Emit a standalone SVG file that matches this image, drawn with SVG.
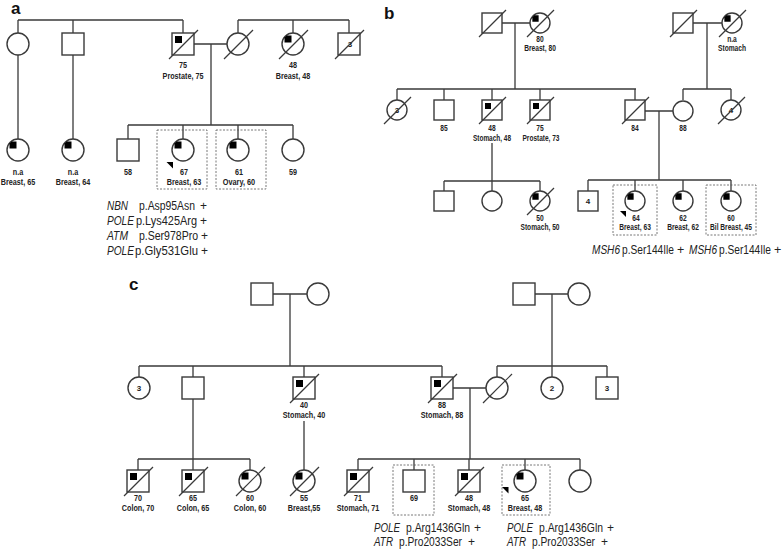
<svg xmlns="http://www.w3.org/2000/svg" xmlns:xlink="http://www.w3.org/1999/xlink" width="784" height="551" viewBox="0 0 784 551">
<style>
.ln{stroke:#3a3a3a;stroke-width:1.3;fill:none}
.nd{stroke:#3a3a3a;stroke-width:1.4;fill:#fff}
.sl{stroke:#3a3a3a;stroke-width:1.2}
.mk{fill:#000}
.bx{fill:none;stroke:#555;stroke-width:0.8;stroke-dasharray:2 1.5}
.lb{font-family:"Liberation Sans",Arial,sans-serif;font-weight:bold;font-size:9px;text-anchor:middle;fill:#222}
.lbs{font-family:"Liberation Sans",Arial,sans-serif;font-weight:bold;font-size:8.3px;text-anchor:middle;fill:#222}
.in{font-family:"Liberation Sans",Arial,sans-serif;font-weight:bold;font-size:8px;text-anchor:middle;fill:#222}
.g{font-family:"Liberation Sans",Arial,sans-serif;font-size:12px;fill:#222}
.gb{font-family:"Liberation Sans",Arial,sans-serif;font-size:12.5px;fill:#222}
.it{font-style:italic}
.pl{font-family:"Liberation Sans",Arial,sans-serif;font-weight:bold;font-size:17px;fill:#111}
</style>
<defs>
<path id="mc" d="M-1.5,-1.5 H-8.5 V-6.5 L-6.5,-8.5 H-1.5 Z"/>
</defs>

<text class="pl" x="11" y="14">a</text>
<text class="pl" x="384" y="19">b</text>
<text class="pl" x="129" y="290">c</text>

<g id="connectors">
<!-- panel a -->
<path class="ln" d="M18,20 H183 M18,20 V33 M73,20 V33 M183,20 V33 M18,55 V139 M73,55 V139 M194,44 H227 M211,44 V125 M238,20 H349 M238,20 V33 M293,20 V33 M349,20 V33 M128,125 H293 M128,125 V139 M183,125 V139 M238,125 V139 M293,125 V139"/>
<!-- panel b -->
<path class="ln" d="M502,23 H530 M515,23 V89 M693,23 H722 M707,23 V89 M397,89 H636 M397,89 V100 M444,89 V100 M492,89 V100 M540,89 V100 M635,89 V100 M683,89 H731 M683,89 V100 M731,89 V100 M645,111 H673 M659,111 V180 M492,143 V181 M444,181 H540 M444,181 V191 M492,181 V191 M540,181 V191 M588,180 H731 M588,180 V191 M635,180 V191 M683,180 V191 M731,180 V191"/>
<!-- panel c -->
<path class="ln" d="M273,294 H307 M290,294 V366 M535,294 H568 M552,294 V366 M139,366 H442 M139,366 V377 M193,366 V377 M304,366 V377 M442,366 V377 M497,366 H607 M497,366 V377 M552,366 V377 M607,366 V377 M453,388 H486 M470,388 V459 M193,399 V459 M138,459 H250 M138,459 V470 M193,459 V470 M250,459 V470 M304,421 V470 M358,459 H580 M358,459 V470 M414,459 V470 M469,459 V470 M525,459 V470 M580,459 V470"/>
</g>

<!-- ===== Panel a ===== -->
<g id="a-I1"><circle class="nd" cx="18" cy="44" r="11"/></g>
<g id="a-I2"><rect class="nd" x="62" y="33" width="22" height="22"/></g>
<g id="a-I3"><rect class="nd" x="172" y="33" width="22" height="22"/><rect class="mk" x="175" y="36" width="7" height="7"/><line class="sl" x1="169" y1="59" x2="198" y2="30"/>
<text class="lb" x="183" y="68" textLength="8" lengthAdjust="spacingAndGlyphs">75</text><text class="lb" x="183" y="79" textLength="40.8" lengthAdjust="spacingAndGlyphs">Prostate, 75</text></g>
<g id="a-I4"><circle class="nd" cx="238" cy="44" r="11"/><line class="sl" x1="224" y1="59" x2="253" y2="30"/></g>
<g id="a-I5"><circle class="nd" cx="293" cy="44" r="11"/><use href="#mc" class="mk" transform="translate(293,44)"/><line class="sl" x1="279" y1="59" x2="308" y2="30"/>
<text class="lb" x="293" y="68" textLength="8" lengthAdjust="spacingAndGlyphs">48</text><text class="lb" x="293" y="79" textLength="34.4" lengthAdjust="spacingAndGlyphs">Breast, 48</text></g>
<g id="a-I6"><rect class="nd" x="338" y="33" width="22" height="22"/><text class="in" x="350" y="47">3</text><line class="sl" x1="335" y1="59" x2="364" y2="30"/></g>

<g id="a-II1"><circle class="nd" cx="18" cy="150" r="11"/><use href="#mc" class="mk" transform="translate(18,150)"/>
<text class="lb" x="18" y="175" textLength="10.4" lengthAdjust="spacingAndGlyphs">n.a</text><text class="lb" x="18" y="185" textLength="34.4" lengthAdjust="spacingAndGlyphs">Breast, 65</text></g>
<g id="a-II2"><circle class="nd" cx="73" cy="150" r="11"/><use href="#mc" class="mk" transform="translate(73,150)"/>
<text class="lb" x="73" y="175" textLength="10.4" lengthAdjust="spacingAndGlyphs">n.a</text><text class="lb" x="73" y="185" textLength="34.4" lengthAdjust="spacingAndGlyphs">Breast, 64</text></g>
<g id="a-II3"><rect class="nd" x="117" y="139" width="22" height="22"/><text class="lb" x="128" y="175" textLength="8" lengthAdjust="spacingAndGlyphs">58</text></g>
<g id="a-II4"><rect class="bx" x="157" y="130" width="50" height="59"/><circle class="nd" cx="183" cy="150" r="11"/><use href="#mc" class="mk" transform="translate(183,150)"/>
<polygon class="mk" points="166.5,162 173,162 173,168.5"/>
<text class="lb" x="184" y="175" textLength="8" lengthAdjust="spacingAndGlyphs">67</text><text class="lb" x="184" y="185" textLength="34.4" lengthAdjust="spacingAndGlyphs">Breast, 63</text></g>
<g id="a-II5"><rect class="bx" x="216" y="130" width="50" height="59"/><circle class="nd" cx="238" cy="150" r="11"/><use href="#mc" class="mk" transform="translate(238,150)"/>
<text class="lb" x="239" y="175" textLength="8" lengthAdjust="spacingAndGlyphs">61</text><text class="lb" x="239" y="185" textLength="32.4" lengthAdjust="spacingAndGlyphs">Ovary, 60</text></g>
<g id="a-II6"><circle class="nd" cx="293" cy="150" r="11"/><text class="lb" x="293" y="175" textLength="8" lengthAdjust="spacingAndGlyphs">59</text></g>

<g id="a-variants">
<text class="g it" x="107" y="210" textLength="21" lengthAdjust="spacingAndGlyphs">NBN</text><text class="g" x="139" y="210" textLength="56" lengthAdjust="spacingAndGlyphs">p.Asp95Asn</text><text class="g" x="200" y="210">+</text>
<text class="g it" x="107" y="225" textLength="27" lengthAdjust="spacingAndGlyphs">POLE</text><text class="g" x="136" y="225" textLength="61" lengthAdjust="spacingAndGlyphs">p.Lys425Arg</text><text class="g" x="200" y="225">+</text>
<text class="g it" x="107" y="240" textLength="21" lengthAdjust="spacingAndGlyphs">ATM</text><text class="g" x="139" y="240" textLength="59" lengthAdjust="spacingAndGlyphs">p.Ser978Pro</text><text class="g" x="201" y="240">+</text>
<text class="g it" x="107" y="255" textLength="27" lengthAdjust="spacingAndGlyphs">POLE</text><text class="g" x="135" y="255" textLength="63" lengthAdjust="spacingAndGlyphs">p.Gly531Glu</text><text class="g" x="201" y="255">+</text>
</g>

<!-- ===== Panel b ===== -->
<g id="b-I1"><rect class="nd" x="482" y="13" width="20" height="20"/><line class="sl" x1="479" y1="37" x2="506" y2="10"/></g>
<g id="b-I2"><circle class="nd" cx="540" cy="23" r="10"/><use href="#mc" class="mk" transform="translate(540,23) scale(0.9)"/><line class="sl" x1="527" y1="37" x2="554" y2="10"/>
<text class="lbs" x="540" y="42" textLength="7.4" lengthAdjust="spacingAndGlyphs">80</text><text class="lbs" x="540" y="51" textLength="31.7" lengthAdjust="spacingAndGlyphs">Breast, 80</text></g>
<g id="b-I3"><rect class="nd" x="673" y="13" width="20" height="20"/><line class="sl" x1="670" y1="37" x2="697" y2="10"/></g>
<g id="b-I4"><circle class="nd" cx="732" cy="23" r="10"/><use href="#mc" class="mk" transform="translate(732,23) scale(0.9)"/><line class="sl" x1="719" y1="37" x2="746" y2="10"/>
<text class="lbs" x="732" y="42" textLength="9.6" lengthAdjust="spacingAndGlyphs">n.a</text><text class="lbs" x="732" y="51" textLength="28" lengthAdjust="spacingAndGlyphs">Stomach</text></g>

<g id="b-II1"><circle class="nd" cx="397" cy="110" r="10"/><text class="in" x="397" y="113">3</text><line class="sl" x1="384" y1="124" x2="411" y2="97"/></g>
<g id="b-II2"><rect class="nd" x="434" y="100" width="20" height="20"/><text class="lbs" x="444" y="131" textLength="7.4" lengthAdjust="spacingAndGlyphs">85</text></g>
<g id="b-II3"><rect class="nd" x="482" y="100" width="20" height="20"/><rect class="mk" x="485" y="103" width="6" height="6"/><line class="sl" x1="479" y1="124" x2="506" y2="97"/>
<text class="lbs" x="492" y="131" textLength="7.4" lengthAdjust="spacingAndGlyphs">48</text><text class="lbs" x="492" y="141" textLength="38" lengthAdjust="spacingAndGlyphs">Stomach, 48</text></g>
<g id="b-II4"><rect class="nd" x="530" y="100" width="20" height="20"/><rect class="mk" x="533" y="103" width="6" height="6"/><line class="sl" x1="527" y1="124" x2="554" y2="97"/>
<text class="lbs" x="540" y="131" textLength="7.4" lengthAdjust="spacingAndGlyphs">75</text><text class="lbs" x="541" y="141" textLength="37" lengthAdjust="spacingAndGlyphs">Prostate, 73</text></g>
<g id="b-II5"><rect class="nd" x="625" y="100" width="20" height="20"/><line class="sl" x1="622" y1="124" x2="649" y2="97"/><text class="lbs" x="635" y="131" textLength="7.4" lengthAdjust="spacingAndGlyphs">84</text></g>
<g id="b-II6"><circle class="nd" cx="683" cy="111" r="10"/><text class="lbs" x="683" y="131" textLength="7.4" lengthAdjust="spacingAndGlyphs">88</text></g>
<g id="b-II7"><circle class="nd" cx="731" cy="110" r="10"/><text class="in" x="731" y="113">4</text><line class="sl" x1="718" y1="124" x2="745" y2="97"/></g>

<g id="b-III1"><rect class="nd" x="434" y="191" width="20" height="20"/></g>
<g id="b-III2"><circle class="nd" cx="492" cy="201" r="10"/></g>
<g id="b-III3"><circle class="nd" cx="540" cy="201" r="10"/><use href="#mc" class="mk" transform="translate(540,201) scale(0.9)"/><line class="sl" x1="527" y1="215" x2="554" y2="188"/>
<text class="lbs" x="540" y="221" textLength="7.4" lengthAdjust="spacingAndGlyphs">50</text><text class="lbs" x="540" y="230" textLength="39" lengthAdjust="spacingAndGlyphs">Stomach, 50</text></g>
<g id="b-III4"><rect class="nd" x="578" y="191" width="20" height="20"/><text class="in" x="588" y="204">4</text></g>
<g id="b-III5"><rect class="bx" x="613" y="185" width="44" height="50"/><circle class="nd" cx="635" cy="201" r="10"/><use href="#mc" class="mk" transform="translate(635,201) scale(0.9)"/>
<polygon class="mk" points="620,211 626,211 626,217"/>
<text class="lbs" x="636" y="221" textLength="7.4" lengthAdjust="spacingAndGlyphs">64</text><text class="lbs" x="635" y="230" textLength="31.7" lengthAdjust="spacingAndGlyphs">Breast, 63</text></g>
<g id="b-III6"><circle class="nd" cx="683" cy="201" r="10"/><use href="#mc" class="mk" transform="translate(683,201) scale(0.9)"/>
<text class="lbs" x="683" y="221" textLength="7.4" lengthAdjust="spacingAndGlyphs">62</text><text class="lbs" x="683" y="230" textLength="31.7" lengthAdjust="spacingAndGlyphs">Breast, 62</text></g>
<g id="b-III7"><rect class="bx" x="706" y="185" width="50" height="50"/><circle class="nd" cx="731" cy="201" r="10"/><use href="#mc" class="mk" transform="translate(731,201) scale(0.9)"/>
<text class="lbs" x="731" y="221" textLength="7.4" lengthAdjust="spacingAndGlyphs">60</text><text class="lbs" x="731" y="230" textLength="42" lengthAdjust="spacingAndGlyphs">Bil Breast, 45</text></g>

<g id="b-variants">
<text class="gb it" x="592" y="254" textLength="28" lengthAdjust="spacingAndGlyphs">MSH6</text><text class="gb" x="622" y="254" textLength="52" lengthAdjust="spacingAndGlyphs">p.Ser144Ile</text><text class="gb" x="677" y="254">+</text>
<text class="gb it" x="689" y="254" textLength="28" lengthAdjust="spacingAndGlyphs">MSH6</text><text class="gb" x="719" y="254" textLength="52" lengthAdjust="spacingAndGlyphs">p.Ser144Ile</text><text class="gb" x="774" y="254">+</text>
</g>

<!-- ===== Panel c ===== -->
<g id="c-I1"><rect class="nd" x="251" y="283" width="22" height="22"/></g>
<g id="c-I2"><circle class="nd" cx="318" cy="294" r="11"/></g>
<g id="c-I3"><rect class="nd" x="513" y="283" width="22" height="22"/></g>
<g id="c-I4"><circle class="nd" cx="579" cy="294" r="11"/></g>

<g id="c-II1"><circle class="nd" cx="139" cy="388" r="11"/><text class="in" x="139" y="391">3</text></g>
<g id="c-II2"><rect class="nd" x="182" y="377" width="22" height="22"/></g>
<g id="c-II3"><rect class="nd" x="293" y="377" width="22" height="22"/><rect class="mk" x="296" y="380" width="7" height="7"/><line class="sl" x1="290" y1="403" x2="319" y2="374"/>
<text class="lb" x="304" y="408" textLength="8" lengthAdjust="spacingAndGlyphs">40</text><text class="lb" x="304" y="418" textLength="42.4" lengthAdjust="spacingAndGlyphs">Stomach, 40</text></g>
<g id="c-II4"><rect class="nd" x="431" y="377" width="22" height="22"/><rect class="mk" x="434" y="380" width="7" height="7"/><line class="sl" x1="428" y1="403" x2="457" y2="374"/>
<text class="lb" x="442" y="408" textLength="8" lengthAdjust="spacingAndGlyphs">88</text><text class="lb" x="442" y="418" textLength="42.4" lengthAdjust="spacingAndGlyphs">Stomach, 88</text></g>
<g id="c-II5"><circle class="nd" cx="497" cy="388" r="11"/><line class="sl" x1="483" y1="403" x2="512" y2="374"/></g>
<g id="c-II6"><circle class="nd" cx="552" cy="388" r="11"/><text class="in" x="552" y="391">2</text></g>
<g id="c-II7"><rect class="nd" x="596" y="377" width="22" height="22"/><text class="in" x="607" y="391">3</text></g>

<g id="c-III1"><rect class="nd" x="127" y="470" width="22" height="22"/><rect class="mk" x="130" y="473" width="7" height="7"/><line class="sl" x1="124" y1="496" x2="153" y2="467"/>
<text class="lb" x="138" y="501" textLength="8" lengthAdjust="spacingAndGlyphs">70</text><text class="lb" x="138" y="511" textLength="32.4" lengthAdjust="spacingAndGlyphs">Colon, 70</text></g>
<g id="c-III2"><rect class="nd" x="182" y="470" width="22" height="22"/><rect class="mk" x="185" y="473" width="7" height="7"/><line class="sl" x1="179" y1="496" x2="208" y2="467"/>
<text class="lb" x="193" y="501" textLength="8" lengthAdjust="spacingAndGlyphs">65</text><text class="lb" x="193" y="511" textLength="32.4" lengthAdjust="spacingAndGlyphs">Colon, 65</text></g>
<g id="c-III3"><circle class="nd" cx="250" cy="481" r="11"/><use href="#mc" class="mk" transform="translate(250,481)"/><line class="sl" x1="236" y1="496" x2="265" y2="467"/>
<text class="lb" x="250" y="501" textLength="8" lengthAdjust="spacingAndGlyphs">60</text><text class="lb" x="250" y="511" textLength="32.4" lengthAdjust="spacingAndGlyphs">Colon, 60</text></g>
<g id="c-III4"><circle class="nd" cx="304" cy="481" r="11"/><use href="#mc" class="mk" transform="translate(304,481)"/><line class="sl" x1="290" y1="496" x2="319" y2="467"/>
<text class="lb" x="304" y="501" textLength="8" lengthAdjust="spacingAndGlyphs">55</text><text class="lb" x="304" y="511" textLength="32.4" lengthAdjust="spacingAndGlyphs">Breast,55</text></g>
<g id="c-III5"><rect class="nd" x="347" y="470" width="22" height="22"/><rect class="mk" x="350" y="473" width="7" height="7"/><line class="sl" x1="344" y1="496" x2="373" y2="467"/>
<text class="lb" x="358" y="501" textLength="8" lengthAdjust="spacingAndGlyphs">71</text><text class="lb" x="358" y="511" textLength="42.4" lengthAdjust="spacingAndGlyphs">Stomach, 71</text></g>
<g id="c-III6"><rect class="bx" x="393" y="465" width="41" height="50"/><rect class="nd" x="403" y="470" width="22" height="22"/>
<text class="lb" x="414" y="501" textLength="8" lengthAdjust="spacingAndGlyphs">69</text></g>
<g id="c-III7"><rect class="nd" x="458" y="470" width="22" height="22"/><rect class="mk" x="461" y="473" width="7" height="7"/><line class="sl" x1="455" y1="496" x2="484" y2="467"/>
<text class="lb" x="469" y="501" textLength="8" lengthAdjust="spacingAndGlyphs">48</text><text class="lb" x="469" y="511" textLength="42.4" lengthAdjust="spacingAndGlyphs">Stomach, 48</text></g>
<g id="c-III8"><rect class="bx" x="502" y="465" width="48" height="50"/><circle class="nd" cx="525" cy="481" r="11"/><use href="#mc" class="mk" transform="translate(525,481)"/>
<polygon class="mk" points="502,487 508.5,487 508.5,493.5"/>
<text class="lb" x="525" y="501" textLength="8" lengthAdjust="spacingAndGlyphs">65</text><text class="lb" x="525" y="511" textLength="34.4" lengthAdjust="spacingAndGlyphs">Breast, 48</text></g>
<g id="c-III9"><circle class="nd" cx="580" cy="481" r="11"/></g>

<g id="c-variants">
<text class="g it" x="374" y="532" textLength="26" lengthAdjust="spacingAndGlyphs">POLE</text><text class="g" x="406" y="532" textLength="64" lengthAdjust="spacingAndGlyphs">p.Arg1436Gln</text><text class="g" x="474" y="532">+</text>
<text class="g it" x="374" y="546" textLength="19" lengthAdjust="spacingAndGlyphs">ATR</text><text class="g" x="399" y="546" textLength="63" lengthAdjust="spacingAndGlyphs">p.Pro2033Ser</text><text class="g" x="468" y="546">+</text>
<text class="g it" x="507" y="532" textLength="26" lengthAdjust="spacingAndGlyphs">POLE</text><text class="g" x="539" y="532" textLength="64" lengthAdjust="spacingAndGlyphs">p.Arg1436Gln</text><text class="g" x="607" y="532">+</text>
<text class="g it" x="507" y="546" textLength="19" lengthAdjust="spacingAndGlyphs">ATR</text><text class="g" x="532" y="546" textLength="63" lengthAdjust="spacingAndGlyphs">p.Pro2033Ser</text><text class="g" x="601" y="546">+</text>
</g>
</svg>
